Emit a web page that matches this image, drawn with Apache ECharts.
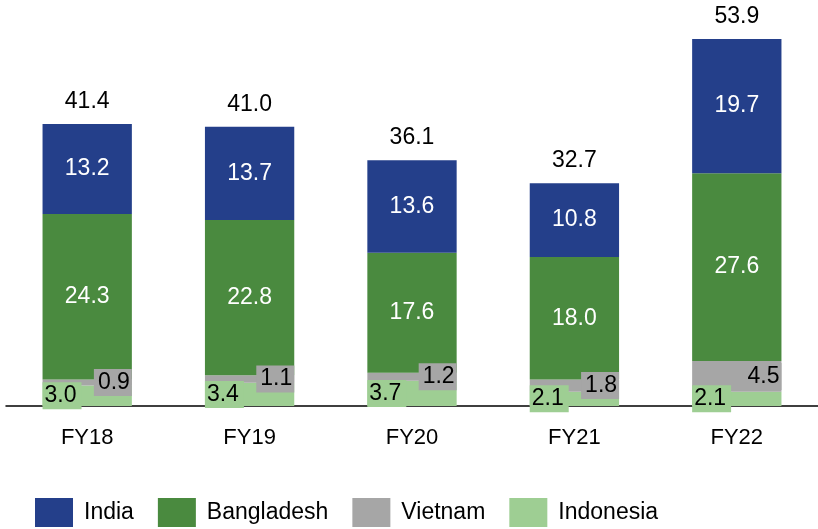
<!DOCTYPE html>
<html><head><meta charset="utf-8">
<script src="https://cdn.jsdelivr.net/npm/echarts@6/dist/echarts.min.js"></script>
<style>html,body{margin:0;padding:0;background:#fff}#c{width:818px;height:529px}</style>
</head><body><div id="c"></div>
<script>
const categories = ['FY18','FY19','FY20','FY21','FY22'];
const india = [13.2, 13.7, 13.6, 10.8, 19.7];
const bangladesh = [24.3, 22.8, 17.6, 18.0, 27.6];
const vietnam = [0.9, 1.1, 1.2, 1.8, 4.5];
const indonesia = [3.0, 3.4, 3.7, 2.1, 2.1];
const totals = [41.4, 41.0, 36.1, 32.7, 53.9];

const F = '"Liberation Sans", Arial, sans-serif';
const fmt = p => p.value.toFixed(1);
const chart = echarts.init(document.getElementById('c'));
chart.setOption({
  animation: false,
  grid: {left: 6, width: 816, top: 39, bottom: 123},
  legend: {
    data: ['India','Bangladesh','Vietnam','Indonesia'],
    left: 35, top: 498, padding: 0, itemWidth: 38, itemHeight: 29, itemGap: 24,
    icon: 'rect',
    textStyle: {fontFamily: F, fontSize: 23, color: '#000', padding: [4,0,0,6]}
  },
  xAxis: {
    type: 'category', data: categories,
    axisLine: {lineStyle: {color: '#000', width: 1.5}},
    axisTick: {show: false},
    axisLabel: {fontFamily: F, fontSize: 22, color: '#000', margin: 21}
  },
  yAxis: {type: 'value', min: 0, max: 53.9, show: false, splitLine: {show: false}},
  series: [
    {name: 'Indonesia', type: 'bar', stack: 's', data: indonesia, barWidth: '55%',
     itemStyle: {color: '#9ECE93'},
     label: {show: true, position: 'insideLeft', distance: 0, formatter: fmt,
       fontFamily: F, fontSize: 23, color: '#000', backgroundColor: '#9ECE93', padding: [3,5,1,2]}},
    {name: 'Vietnam', type: 'bar', stack: 's', data: vietnam,
     itemStyle: {color: '#A6A6A6'},
     label: {show: true, position: 'insideRight', distance: 0, formatter: fmt,
       fontFamily: F, fontSize: 23, color: '#000', backgroundColor: '#A6A6A6', padding: [3,2,1,4]}},
    {name: 'Bangladesh', type: 'bar', stack: 's', data: bangladesh,
     itemStyle: {color: '#4A8A3F'},
     label: {show: true, position: 'inside', formatter: fmt,
       fontFamily: F, fontSize: 23, color: '#fff'}},
    {name: 'India', type: 'bar', stack: 's', data: india,
     itemStyle: {color: '#243F8A'},
     label: {show: true, position: 'inside', formatter: fmt,
       fontFamily: F, fontSize: 23, color: '#fff'}},
    {name: 'Total', type: 'bar', stack: 's', data: totals.map(() => 0),
     itemStyle: {color: 'transparent'},
     label: {show: true, position: 'top', distance: 11,
       formatter: p => totals[p.dataIndex].toFixed(1),
       fontFamily: F, fontSize: 23, color: '#000'}}
  ]
});
</script></body></html>
